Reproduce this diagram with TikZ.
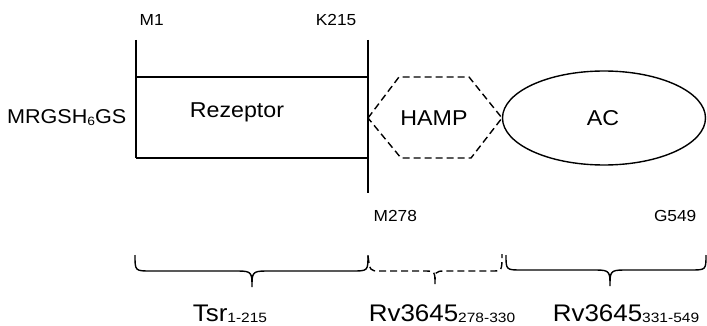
\documentclass[tikz,border=0pt]{standalone}
\usepackage{fontspec}
\setmainfont{Liberation Sans}[FakeStretch=1.08]
\newfontfamily\subfont{Liberation Sans}[FakeStretch=1.15]
\newcommand\mysub[3]{\raisebox{-#2pt}{\subfont\fontsize{#3}{#3}\selectfont #1}}
\begin{document}
\begin{tikzpicture}[x=1pt,y=-1pt,line width=1.4pt,
  lbl/.style={inner sep=0pt,font=\fontsize{16}{16}\selectfont},
  mid/.style={inner sep=0pt,font=\fontsize{21.5}{22}\selectfont},
  bigl/.style={inner sep=0pt,font=\fontsize{24}{24}\selectfont},
  dsh/.style={dash pattern=on 7pt off 4pt}]
\useasboundingbox (0,0) rectangle (707,326);
% vertical lines and receptor box
\coordinate (l1) at (136,40);
\coordinate (l2) at (136,158);
\coordinate (r1) at (368,40);
\coordinate (r2) at (368,193);
\draw (l1) -- (l2);
\draw (r1) -- (r2);
\draw (136,77) -- (368,77);
\draw (136,158) -- (368,158);
% HAMP hexagon
\draw[dsh] (368,118) -- (399,77) -- (469,77) -- (502,118) -- (471,158) -- (401,158) -- cycle;
% AC ellipse
\draw (604,118) ellipse [x radius=101.5, y radius=47];
% labels
\node[lbl,anchor=base west] (m1) at (139,26) {M1};
\node[lbl,anchor=base east] (k215) at (357,26) {K215};
\node[lbl,anchor=base west] (m278) at (373,222) {M278};
\node[lbl,anchor=base east] (g549) at (697,222) {G549};
\node[inner sep=0pt,anchor=base east,font=\fontsize{20}{20}\selectfont] (tag) at (127,124) {MRGSH\mysub{6}{2}{12}GS};
\node[mid,anchor=base] (rez) at (237,118) {Rezeptor};
\node[mid,anchor=base] (hamp) at (434,126) {HAMP};
\node[mid,anchor=base] (ac) at (603,126) {AC};
% braces
\draw (135,255) .. controls (135,271) and (135,271) .. (151,271) -- (238,271)
  .. controls (252,271) and (252,273) .. (252,287)
  .. controls (252,273) and (252,271) .. (266,271) -- (352,271)
  .. controls (368,271) and (368,271) .. (368,255);
\draw[dsh] (368,256) .. controls (370,271) and (370,271) .. (380,271) -- (425,271)
  .. controls (435,271) and (435,272) .. (435,284)
  .. controls (435,272) and (435,271) .. (445,271) -- (492,271)
  .. controls (502,271) and (502,271) .. (502,254);
\draw (506,255) .. controls (506,270) and (506,270) .. (522,270) -- (596,270)
  .. controls (610,270) and (610,272) .. (610,286)
  .. controls (610,272) and (610,270) .. (624,270) -- (690,270)
  .. controls (706,270) and (706,270) .. (706,255);
% bottom labels
\node[bigl,anchor=base] (tsr) at (230,321) {Tsr\mysub{1-215}{1}{13.5}};
\node[bigl,anchor=base] (rv1) at (442,321) {Rv3645\mysub{278-330}{1}{13.5}};
\node[bigl,anchor=base] (rv2) at (626,321) {Rv3645\mysub{331-549}{1}{13.5}};
\end{tikzpicture}
\end{document}
